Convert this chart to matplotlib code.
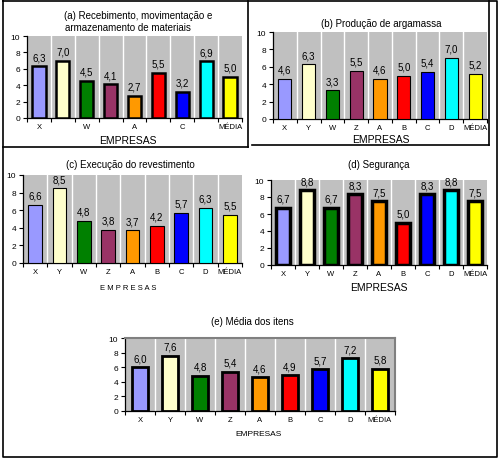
import matplotlib.pyplot as plt
import numpy as np

plt.rcParams['font.family'] = ['Liberation Sans', 'DejaVu Sans']

empresas = ['X', 'Y', 'W', 'Z', 'A', 'B', 'C', 'D', 'MÉDIA']
cores = ['#9999FF', '#FFFFCC', '#008000', '#993366', '#FF9900',
         '#FF0000', '#0000FF', '#00FFFF', '#FFFF00']

receb = [6.3, 7.0, 4.5, 4.1, 2.7, 5.5, 3.2, 6.9, 5.0]
argamassa = [4.6, 6.3, 3.3, 5.5, 4.6, 5.0, 5.4, 7.0, 5.2]
revest = [6.6, 8.5, 4.8, 3.8, 3.7, 4.2, 5.7, 6.3, 5.5]
seguranca = [6.7, 8.8, 6.7, 8.3, 7.5, 5.0, 8.3, 8.8, 7.5]
media_itens = [6.0, 7.6, 4.8, 5.4, 4.6, 4.9, 5.7, 7.2, 5.8]

W, H = 500., 460.

def px_axes(fig, x0, x1, ytop, ybot):
    return fig.add_axes([x0/W, 1-ybot/H, (x1-x0)/W, (ybot-ytop)/H])

def painel(ax, vals, lw, xlab_skip=False):
    n = len(vals)
    ax.set_facecolor('#C0C0C0')
    x = np.arange(n)
    ax.bar(x, vals, width=0.55, color=cores, edgecolor='black', linewidth=lw, zorder=3)
    for b in np.arange(n-1)+0.5:
        ax.axvline(b, color='white', lw=1, zorder=1)
    for xi, v in zip(x, vals):
        ax.annotate(('%.1f' % v).replace('.', ','), (xi, v), xytext=(0, 3),
                    textcoords='offset points', ha='center', va='bottom',
                    fontsize=7, zorder=4, annotation_clip=False)
    ax.set_xlim(-0.5, n-0.5)
    ax.set_ylim(0, 10)
    ax.set_yticks(range(0, 11, 2))
    ax.set_xticks(np.arange(n+1)-0.5, minor=False)
    ax.set_xticklabels([])
    ax.set_xticks(x, minor=True)
    labs = [l if (not xlab_skip or i % 2 == 0) else '' for i, l in enumerate(empresas)]
    ax.set_xticklabels(labs, minor=True, fontsize=5.5)
    ax.tick_params(axis='x', which='minor', length=0, pad=3.5)
    ax.tick_params(axis='x', which='major', length=3, direction='out', width=0.8)
    ax.tick_params(axis='y', labelsize=6, length=3, width=0.8, pad=2)
    for s in ['top', 'right']:
        ax.spines[s].set_visible(False)
    for s in ['left', 'bottom']:
        ax.spines[s].set_linewidth(0.9)

def texto(x, y, s, **kw):
    fig.text(x/W, 1-y/H, s, ha='center', va='center', **kw)

fig = plt.figure(figsize=(5, 4.6), dpi=100)

# (a)
ax = px_axes(fig, 27, 242, 37, 119)
painel(ax, receb, 1.8, xlab_skip=True)
texto(138, 16, '(a) Recebimento, movimentação e', fontsize=7)
texto(128, 28, 'armazenamento de materiais', fontsize=7)
texto(128, 141, 'EMPRESAS', fontsize=7.5)

# (b)
ax = px_axes(fig, 273, 487, 33, 120)
painel(ax, argamassa, 0.8)
texto(381, 24, '(b) Produção de argamassa', fontsize=7)
texto(381, 140, 'EMPRESAS', fontsize=7.5)

# (c)
ax = px_axes(fig, 23, 242, 176, 264)
painel(ax, revest, 0.8)
texto(130, 165, '(c) Execução do revestimento', fontsize=7)
texto(128, 288, 'E M P R E S A S', fontsize=5.5)

# (d)
ax = px_axes(fig, 271, 487, 181, 266)
painel(ax, seguranca, 2.5)
texto(379, 165, '(d) Segurança', fontsize=7)
texto(379, 288, 'EMPRESAS', fontsize=7.5)

# (e)
ax = px_axes(fig, 125, 395, 339, 412)
painel(ax, media_itens, 2.0)
for s in ['top', 'right']:
    ax.spines[s].set_visible(True)
    ax.spines[s].set_color('#808080')
    ax.spines[s].set_linewidth(1.5)
texto(252, 322, '(e) Média dos itens', fontsize=7)
texto(259, 435, 'EMPRESAS', fontsize=6)

# molduras
def linha(xs, ys, lw=1.2):
    fig.add_artist(plt.Line2D([x/W for x in xs], [1-y/H for y in ys],
                              color='black', lw=lw))

linha([3, 497, 497, 3, 3], [2, 2, 458, 458, 2])
linha([248, 248], [2, 148])
linha([3, 248], [148, 148])
linha([489, 489], [2, 146])
linha([252, 489], [146, 146])

fig.savefig('out.png', dpi=100)
